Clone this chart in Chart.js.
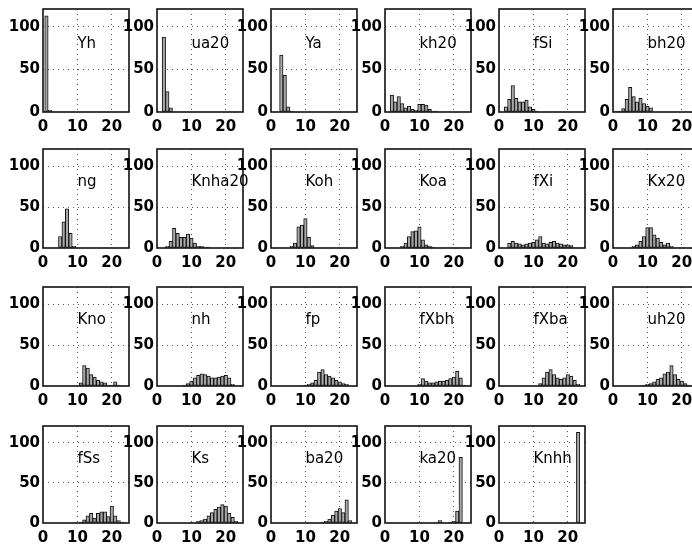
<!DOCTYPE html>
<html lang="en">
<head>
<meta charset="UTF-8">
<title>Rank histograms</title>
<script src="https://cdn.jsdelivr.net/npm/chart.js@4.4.0/dist/chart.umd.min.js"></script>
<style>
  html, body { margin: 0; padding: 0; background: #fff; }
  body { width: 692px; height: 548px; overflow: hidden; position: relative; }
  canvas { position: absolute; }
</style>
</head>
<body>
<script>
// ranks 1..23 (x of each bar)
const ranks = [1,2,3,4,5,6,7,8,9,10,11,12,13,14,15,16,17,18,19,20,21,22,23];
const names = ['Yh','ua20','Ya','kh20','fSi','bh20',
               'ng','Knha20','Koh','Koa','fXi','Kx20',
               'Kno','nh','fp','fXbh','fXba','uh20',
               'fSs','Ks','ba20','ka20','Knhh'];
const xTicks = [0, 10, 20];
const yTicks = [0, 50, 100];

// counts per rank, one array per parameter
const Yh     = [113,2,0,0,0,0,0,0,0,0,0,0,0,0,0,0,0,0,0,0,0,0,0];
const ua20   = [0,88,24,5,0,0,0,0,0,0,0,0,0,0,0,0,0,0,0,0,0,0,0];
const Ya     = [0,0,67,43,6,1,0,0,0,0,0,0,0,0,0,0,0,0,0,0,0,0,0];
const kh20   = [0,20,12,18,10,5,7,3,2,9,9,8,3,1,1,0,0,0,0,0,0,0,0];
const fSi    = [0,6,15,31,16,12,12,14,6,3,1,0,0,0,0,0,0,0,0,0,0,0,0];
const bh20   = [1,1,4,15,29,18,12,16,10,7,5,0,0,0,0,0,0,0,0,0,0,0,0];
const ng     = [0,0,0,0,14,32,48,18,2,0,0,0,0,0,0,0,0,0,0,0,0,0,0];
const Knha20 = [0,0,2,8,24,18,13,13,17,12,6,2,2,1,1,0,0,0,0,0,0,0,0];
const Koh    = [0,0,0,0,0,2,6,26,28,36,13,3,0,0,0,0,0,0,0,0,0,0,0];
const Koa    = [0,0,0,0,2,6,14,20,21,26,10,4,2,1,0,0,0,0,0,0,0,0,0];
const fXi    = [0,0,6,8,6,5,4,5,6,7,10,14,6,5,7,8,6,5,4,4,3,0,0];
const Kx20   = [0,0,0,0,0,2,4,8,14,25,25,16,12,7,4,6,2,0,0,0,0,0,0];
const Kno    = [0,0,0,0,0,0,0,0,0,0,4,25,22,14,11,7,5,4,1,1,5,1,0];
const nh     = [0,0,0,0,0,0,0,1,3,6,10,13,15,14,12,10,10,11,12,13,10,2,0];
const fp     = [0,0,0,0,0,0,0,0,0,1,2,4,7,17,20,14,12,10,7,5,3,2,0];
const fXbh   = [0,0,0,0,0,0,0,0,0,2,9,6,4,4,5,6,6,7,9,11,18,10,1];
const fXba   = [0,0,0,0,0,0,0,0,0,0,0,3,10,17,20,14,10,8,10,14,12,7,2];
const uh20   = [0,0,0,0,0,0,0,0,1,2,3,5,8,10,15,17,25,14,8,6,3,1,0];
const fSs    = [0,0,0,0,0,0,0,0,0,0,1,4,9,12,6,12,14,14,8,21,9,3,1];
const Ks     = [0,0,0,0,0,0,0,0,0,0,0,2,3,5,9,13,17,20,23,21,12,7,2];
const ba20   = [0,0,0,0,0,0,0,0,0,0,0,0,0,0,1,2,5,10,15,18,13,29,3];
const ka20   = [0,0,0,0,0,0,0,0,0,0,0,0,0,0,0,3,0,0,1,2,15,82,0];
const Knhh   = [0,0,0,0,0,0,0,0,0,0,0,0,0,0,0,0,0,0,0,0,0,0,113];

const counts = [Yh, ua20, Ya, kh20, fSi, bh20, ng, Knha20, Koh, Koa, fXi, Kx20,
                Kno, nh, fp, fXbh, fXba, uh20, fSs, Ks, ba20, ka20, Knhh];

// layout of the 6x4 grid of small axes
const colLeft = [43, 157, 271, 385, 499, 613];
const rowTop = [5, 145, 283, 422];
const rowH = [107, 103, 103, 101];
const plotW = 86;
const axisW = 45, axisH = 28, padT = 8, padR = 14;

const tickFont = { family: '"DejaVu Sans", sans-serif', size: 15, weight: 'bold' };

// box around the axes + parameter name written at data coords (10, 80)
const frame = {
    id: 'frame',
    afterDatasetsDraw(chart, args, opts) {
        const { ctx, chartArea: a, scales } = chart;
        ctx.save();
        ctx.strokeStyle = '#111';
        ctx.lineWidth = 1.6;
        ctx.strokeRect(a.left, a.top, a.right - a.left, a.bottom - a.top);
        ctx.fillStyle = '#000';
        ctx.font = '15px "DejaVu Sans", sans-serif';
        ctx.textAlign = 'left';
        ctx.textBaseline = 'middle';
        ctx.fillText(opts.label, scales.x.getPixelForValue(10), scales.y.getPixelForValue(80));
        ctx.restore();
    }
};

const gridColor = c => (c.tick && c.tick.value === 0) ? 'rgba(0,0,0,0)' : '#555';

names.forEach((name, i) => {
    const col = i % 6, row = Math.floor(i / 6);
    const cv = document.createElement('canvas');
    const w = axisW + plotW + padR, h = padT + rowH[row] + axisH;
    cv.width = w; cv.height = h;
    cv.style.left = (colLeft[col] - axisW) + 'px';
    cv.style.top = (rowTop[row] - padT) + 'px';
    document.body.appendChild(cv);

    new Chart(cv, {
        type: 'bar',
        data: {
            datasets: [{
                data: ranks.map((r, k) => ({ x: r, y: counts[i][k] })),
                backgroundColor: '#a8a8a8',
                borderColor: '#111',
                borderWidth: 1,
                barPercentage: 1,
                categoryPercentage: 1,
                borderSkipped: false
            }]
        },
        plugins: [frame],
        options: {
            responsive: false,
            animation: false,
            events: [],
            layout: { padding: { top: padT, right: padR, left: 0, bottom: 0 } },
            plugins: { legend: { display: false }, tooltip: { enabled: false }, frame: { label: name } },
            scales: {
                x: {
                    type: 'linear', min: 0, max: 25, offset: false,
                    afterBuildTicks: s => { s.ticks = xTicks.map(v => ({ value: v })); },
                    afterFit: s => { s.height = axisH; },
                    ticks: { color: '#000', font: tickFont, padding: 6, maxRotation: 0 },
                    grid: { offset: false, drawTicks: false, color: gridColor, lineWidth: 1 },
                    border: { display: false, dash: [1, 4] }
                },
                y: {
                    min: 0, max: 121,
                    afterBuildTicks: s => { s.ticks = yTicks.map(v => ({ value: v })); },
                    afterFit: s => { s.width = axisW; },
                    ticks: { color: '#000', font: tickFont, padding: 3 },
                    grid: { drawTicks: false, color: gridColor, lineWidth: 1 },
                    border: { display: false, dash: [1, 4] }
                }
            }
        }
    });
});
</script>
</body>
</html>
